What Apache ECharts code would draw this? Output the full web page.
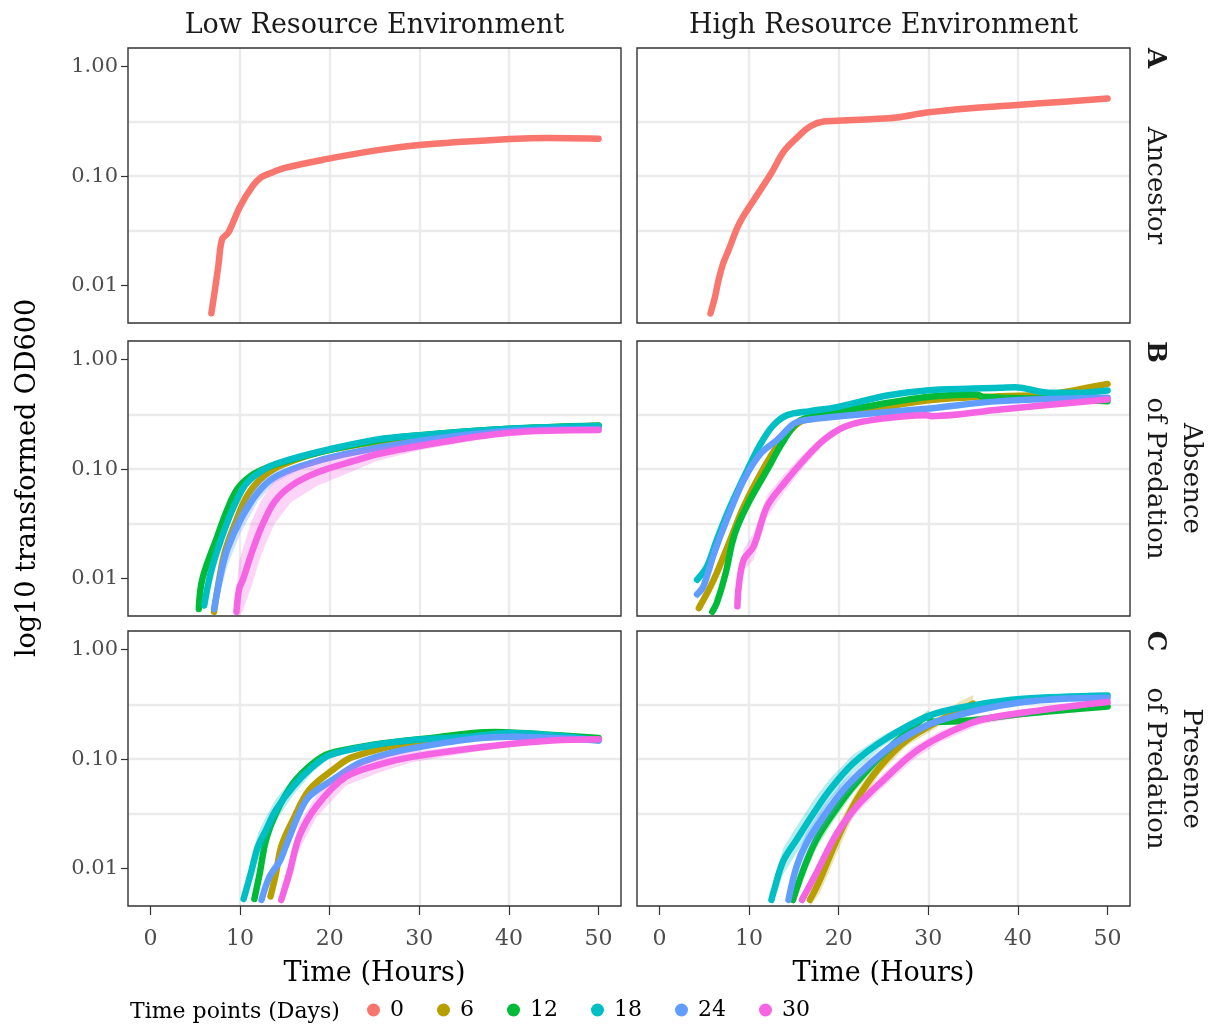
<!DOCTYPE html>
<html>
<head>
<meta charset="utf-8">
<script src="https://cdn.jsdelivr.net/npm/echarts@6/dist/echarts.min.js"></script>
<style>
  html, body { margin: 0; padding: 0; background: #fff; }
  #chart { width: 1216px; height: 1025px; }
</style>
</head>
<body>
<div id="chart"></div>
<script>
// Evolution time points (days) and their colours
const timePoints = ['0', '6', '12', '18', '24', '30'];
const pointColors = ['#F8766D', '#B79F00', '#00BA38', '#00BFC4', '#619CFF', '#F564E3'];
const resourceLabels = ['Low Resource Environment', 'High Resource Environment'];
const xTickValues = [0, 10, 20, 30, 40, 50];
const yTickValues = [0.01, 0.1, 1];

// Growth curves: [hours, OD600, spread of replicates in log10 units]
const lowAncestor = [[6.8,0.0056],[7.2,0.0092],[7.6,0.0157],[8.0,0.0266],[8.7,0.0306],[10.0,0.053],[11.4,0.081],[12.3,0.097],[13.2,0.105],[15.0,0.119],[19.6,0.143],[25.0,0.171],[30.0,0.193],[36.9,0.211],[44.1,0.223],[50,0.220]];
const highAncestor = [[5.7,0.0056],[6.2,0.0079],[6.6,0.0113],[7.1,0.0159],[7.7,0.021],[8.7,0.034],[9.4,0.0436],[10.5,0.060],[12.4,0.104],[13.9,0.169],[15.3,0.223],[16.8,0.284],[18.3,0.316],[19.8,0.320],[23.5,0.331],[26.5,0.343],[29.8,0.381],[34.7,0.417],[39.9,0.447],[45.1,0.479],[50,0.513]];

const lowAbsence6 = [[7.1,0.0050,0.04],[8.2,0.0163,0.05],[9.35,0.0305,0.05],[10.8,0.0572,0.04],[12.7,0.087,0.03],[14.9,0.111,0.02],[20,0.150,0.01],[30,0.200,0.01],[40,0.232,0.01],[50,0.248,0.01]];
const lowAbsence12 = [[5.4,0.0053,0.05],[5.8,0.0100,0.07],[7.5,0.0248,0.08],[8.6,0.0433,0.07],[9.7,0.066,0.05],[11.2,0.087,0.03],[13.1,0.104,0.02],[15.3,0.119,0.015],[20,0.150,0.01],[25.3,0.183,0.01],[30,0.204,0.01],[40,0.234,0.01],[50,0.251,0.01]];
const lowAbsence18 = [[6.0,0.0057,0.04],[6.75,0.0115,0.05],[7.9,0.0231,0.06],[9.35,0.0464,0.05],[10.8,0.0757,0.04],[13.1,0.104,0.02],[15.3,0.121,0.015],[20,0.152,0.01],[25.3,0.187,0.01],[30,0.204,0.01],[40,0.234,0.01],[50,0.248,0.01]];
const lowAbsence24 = [[7.1,0.0053,0.12],[7.9,0.0115,0.15],[8.6,0.0187,0.15],[10.1,0.0351,0.12],[12.0,0.0614,0.08],[13.8,0.084,0.05],[16.8,0.107,0.03],[21.6,0.137,0.02],[30,0.181,0.01],[40,0.223,0.01],[50,0.231,0.01]];
const lowAbsence30 = [[9.6,0.0050,0.2],[9.9,0.0081,0.25],[10.3,0.0097,0.28],[11.2,0.0163,0.3],[12.3,0.0285,0.25],[13.8,0.0498,0.2],[15.7,0.0705,0.15],[18.6,0.0933,0.12],[22.7,0.119,0.09],[25.3,0.137,0.06],[30,0.163,0.04],[40,0.215,0.015],[50,0.228,0.01]];

const highAbsence6 = [[4.4,0.0054,0.03],[5.5,0.0079,0.05],[6.4,0.0113,0.06],[7.9,0.0226,0.06],[9.4,0.0455,0.05],[11.3,0.0914,0.05],[13.1,0.160,0.06],[15.0,0.243,0.04],[16.1,0.279,0.02],[19.8,0.310,0.01],[29.8,0.424,0.01],[38.0,0.464,0.01],[43.5,0.480,0.01],[46.5,0.530,0.01],[50,0.600,0.01]];
const highAbsence12 = [[5.9,0.0050,0.03],[6.4,0.0060,0.03],[7.4,0.0113,0.04],[8.1,0.021,0.04],[8.7,0.030,0.04],[10.1,0.0523,0.04],[12.0,0.098,0.03],[13.9,0.184,0.02],[15.7,0.279,0.01],[19.8,0.332,0.01],[29.8,0.455,0.01],[35.4,0.480,0.01],[36.2,0.455,0.01],[43.5,0.440,0.01],[50,0.418,0.01]];
const highAbsence18 = [[4.2,0.0098,0.04],[5.3,0.0129,0.05],[6.4,0.0226,0.05],[7.9,0.0455,0.04],[9.8,0.098,0.03],[11.3,0.171,0.02],[12.7,0.251,0.01],[14.2,0.310,0.01],[16.8,0.339,0.01],[19.8,0.369,0.01],[25.4,0.471,0.01],[29.8,0.523,0.01],[38.0,0.553,0.01],[39.7,0.560,0.01],[43.5,0.498,0.01],[46.5,0.498,0.01],[50,0.523,0.01]];
const highAbsence24 = [[4.2,0.0072,0.05],[4.9,0.0085,0.05],[6.1,0.0171,0.05],[7.5,0.0344,0.04],[9.4,0.0794,0.03],[11.3,0.139,0.02],[13.1,0.184,0.02],[15.0,0.260,0.01],[16.1,0.279,0.01],[19.8,0.303,0.01],[29.8,0.356,0.01],[38.0,0.418,0.01],[50,0.449,0.01]];
const highAbsence30 = [[8.7,0.0056,0.05],[8.85,0.0085,0.08],[9.4,0.0149,0.1],[10.5,0.0197,0.12],[12.0,0.0455,0.1],[13.9,0.0742,0.08],[16.1,0.121,0.06],[18.3,0.184,0.04],[20.6,0.243,0.02],[23.5,0.279,0.01],[29.8,0.310,0.01],[30.4,0.305,0.01],[38.0,0.351,0.01],[50,0.433,0.01]];

const lowPresence6 = [[13.4,0.0056,0.04],[14.0,0.0090,0.05],[14.6,0.016,0.05],[15.9,0.0279,0.05],[17.7,0.0523,0.04],[20.3,0.0794,0.03],[22.6,0.105,0.02],[30,0.145,0.01],[40,0.160,0.01],[50,0.152,0.01]];
const lowPresence12 = [[11.6,0.0053,0.03],[12.2,0.0091,0.04],[12.9,0.0184,0.04],[14.0,0.0321,0.04],[15.9,0.0601,0.03],[18.1,0.0914,0.02],[20,0.113,0.015],[25,0.136,0.01],[30,0.152,0.01],[38.5,0.177,0.01],[44,0.168,0.01],[50,0.156,0.01]];
const lowPresence18 = [[10.4,0.0053,0.06],[11.2,0.0091,0.1],[12.0,0.016,0.12],[12.9,0.0226,0.12],[14.0,0.0344,0.1],[15.9,0.056,0.08],[18.1,0.0851,0.05],[20,0.109,0.03],[24.8,0.134,0.015],[30,0.151,0.01],[35.6,0.160,0.01],[40,0.173,0.01],[44.8,0.165,0.01],[50,0.149,0.01]];
const lowPresence24 = [[12.4,0.0052,0.04],[13.3,0.0085,0.05],[14.4,0.0116,0.05],[15.1,0.016,0.05],[16.6,0.032,0.05],[17.7,0.0457,0.04],[20.3,0.0645,0.03],[23.7,0.095,0.02],[30,0.129,0.01],[40,0.160,0.01],[50,0.148,0.01]];
const lowPresence30 = [[14.6,0.0052,0.1],[15.5,0.0091,0.12],[16.6,0.0197,0.12],[18.5,0.0369,0.1],[21.8,0.069,0.08],[25.9,0.091,0.07],[29.2,0.105,0.05],[37.4,0.130,0.03],[44.8,0.148,0.01],[50,0.152,0.01]];

const highPresence6 = [[16.8,0.0052,0.08],[17.9,0.0079,0.12],[19.8,0.0184,0.12],[22.0,0.0424,0.08],[24.6,0.0851,0.06],[27.6,0.149,0.05],[31.3,0.226,0.05],[33.5,0.280,0.08],[35.0,0.321,0.08]];
const highPresence12 = [[14.9,0.0052,0.06],[16.2,0.0105,0.08],[17.5,0.0184,0.08],[19.4,0.0321,0.07],[21.6,0.056,0.06],[24.6,0.105,0.05],[28.3,0.197,0.05],[30.0,0.245,0.06],[30.4,0.220,0.03],[34.6,0.226,0.03],[40.6,0.260,0.03],[50,0.303,0.03]];
const highPresence18 = [[12.5,0.0052,0.06],[12.7,0.0060,0.08],[13.8,0.0117,0.12],[15.3,0.0184,0.12],[17.2,0.0321,0.12],[19.0,0.0523,0.1],[21.6,0.0914,0.08],[25.0,0.149,0.05],[30.2,0.251,0.02],[35.0,0.310,0.01],[40.6,0.356,0.01],[50,0.382,0.01]];
const highPresence24 = [[14.4,0.0052,0.08],[15.3,0.0105,0.1],[16.4,0.0171,0.1],[18.3,0.0299,0.1],[20.5,0.0523,0.08],[23.1,0.0851,0.06],[26.8,0.149,0.04],[31.3,0.226,0.02],[40.6,0.332,0.01],[50,0.364,0.01]];
const highPresence30 = [[15.9,0.0052,0.05],[17.5,0.0091,0.06],[19.8,0.0211,0.06],[22.0,0.0369,0.06],[25.0,0.0644,0.06],[28.3,0.113,0.06],[31.3,0.160,0.05],[35.7,0.226,0.04],[42.4,0.279,0.03],[50,0.332,0.02]];

// Facet grid: rows are treatments, columns are resource environments
const panels = [
  { row: 0, col: 0, curves: [['0', lowAncestor]] },
  { row: 0, col: 1, curves: [['0', highAncestor]] },
  { row: 1, col: 0, curves: [['6', lowAbsence6], ['12', lowAbsence12], ['18', lowAbsence18], ['24', lowAbsence24], ['30', lowAbsence30]] },
  { row: 1, col: 1, curves: [['6', highAbsence6], ['12', highAbsence12], ['18', highAbsence18], ['24', highAbsence24], ['30', highAbsence30]] },
  { row: 2, col: 0, curves: [['6', lowPresence6], ['12', lowPresence12], ['18', lowPresence18], ['24', lowPresence24], ['30', lowPresence30]] },
  { row: 2, col: 1, curves: [['6', highPresence6], ['12', highPresence12], ['18', highPresence18], ['24', highPresence24], ['30', highPresence30]] }
];

// Layout
const FONT = 'DejaVu Serif';
const colLeft = [128, 637];
const rowTop = [48, 341, 631];
const panelW = 493, panelH = 275;
const xRange = [-2.5, 52.5];
const yRange = [-2.34, 0.17];   // log10 OD600
const gridColor = '#EBEBEB';

const lg = v => Math.log10(v);
const colorOf = name => pointColors[timePoints.indexOf(name)];

const grids = [], xAxes = [], yAxes = [], series = [];

panels.forEach((p, i) => {
  const bottomRow = p.row === 2;
  const leftCol = p.col === 0;
  grids.push({ left: colLeft[p.col], top: rowTop[p.row], width: panelW, height: panelH, show: false });

  xAxes.push({
    gridIndex: i, type: 'value', min: xRange[0], max: xRange[1], splitNumber: 5, position: 'bottom',
    axisLine: { show: false, onZero: false },
    axisTick: { show: bottomRow, customValues: xTickValues, length: 9, lineStyle: { color: '#333', width: 1.2 } },
    axisLabel: { show: bottomRow, customValues: xTickValues, margin: 22, fontSize: 22, color: '#4D4D4D', fontFamily: FONT },
    splitLine: { show: true, showMinLine: false, showMaxLine: false, lineStyle: { color: gridColor, width: 2.4 } },
    name: bottomRow ? 'Time (Hours)' : '', nameLocation: 'middle', nameGap: 54,
    nameTextStyle: { fontSize: 27, color: '#000', fontFamily: FONT }
  });

  yAxes.push({
    gridIndex: i, type: 'value', min: yRange[0], max: yRange[1], splitNumber: 2, position: 'left',
    axisLine: { show: false, onZero: false },
    axisTick: { show: leftCol, customValues: yTickValues.map(lg), length: 7, lineStyle: { color: '#333', width: 1.2 } },
    axisLabel: {
      show: leftCol, customValues: yTickValues.map(lg), margin: 10, fontSize: 21, color: '#4D4D4D', fontFamily: FONT,
      formatter: v => Math.pow(10, v).toFixed(2)
    },
    splitLine: { show: true, showMinLine: false, showMaxLine: false, lineStyle: { color: gridColor, width: 2.4 } },
    minorTick: { show: false, splitNumber: 2 },
    minorSplitLine: { show: true, lineStyle: { color: gridColor, width: 2.4 } }
  });

  p.curves.forEach(([name, pts], k) => {
    const color = colorOf(name);
    // replicate spread, drawn as a translucent band behind the mean curve
    if (pts.some(d => d[2])) {
      series.push({
        type: 'custom', xAxisIndex: i, yAxisIndex: i, silent: true, z: 2 + k * 2,
        data: [[pts[0][0], lg(pts[0][1])]],
        renderItem: (params, api) => {
          const clampY = v => Math.min(yRange[1], Math.max(yRange[0], v));
          const upper = pts.map(d => api.coord([d[0], clampY(lg(d[1]) + (d[2] || 0))]));
          const lower = pts.map(d => api.coord([d[0], clampY(lg(d[1]) - (d[2] || 0))])).reverse();
          return {
            type: 'polygon',
            shape: { points: upper.concat(lower) },
            style: { fill: color, opacity: 0.28 }
          };
        }
      });
    }
    series.push({
      type: 'line', name, xAxisIndex: i, yAxisIndex: i,
      data: pts.map(d => [d[0], lg(d[1])]),
      showSymbol: false, symbol: 'circle', smooth: 0.35,
      lineStyle: { width: 6.5, color, cap: 'round', join: 'round' },
      itemStyle: { color },
      emphasis: { disabled: true }, silent: true,
      z: 3 + k * 2
    });
  });
});

// Panel frames, facet strips and shared titles
const graphics = [];
panels.forEach(p => {
  graphics.push({
    type: 'rect', z: 100, silent: true,
    shape: { x: colLeft[p.col], y: rowTop[p.row], width: panelW, height: panelH },
    style: { fill: null, stroke: '#333', lineWidth: 1.4 }
  });
});
resourceLabels.forEach((t, c) => {
  graphics.push({
    type: 'text', z: 100, x: colLeft[c] + panelW / 2, y: 26,
    style: { text: t, fill: '#1A1A1A', font: `27px "${FONT}"`, align: 'center', verticalAlign: 'middle' }
  });
});
const stripText = (text, x, y, bold) => ({
  type: 'text', z: 100, x, y, rotation: -Math.PI / 2,
  style: { text, fill: '#1A1A1A', font: `${bold ? 'bold ' : ''}26px "${FONT}"`, align: 'center', verticalAlign: 'middle' }
});
graphics.push(stripText('A', 1155, 58, true));
graphics.push(stripText('Ancestor', 1155, rowTop[0] + panelH / 2));
graphics.push(stripText('B', 1155, 352, true));
graphics.push(stripText('Absence', 1191, rowTop[1] + panelH / 2));
graphics.push(stripText('of Predation', 1155, rowTop[1] + panelH / 2));
graphics.push(stripText('C', 1155, 641, true));
graphics.push(stripText('Presence', 1191, rowTop[2] + panelH / 2));
graphics.push(stripText('of Predation', 1155, rowTop[2] + panelH / 2));
graphics.push({
  type: 'text', z: 100, x: 28, y: 478, rotation: Math.PI / 2,
  style: { text: 'log10 transformed OD600', fill: '#000', font: `27px "${FONT}"`, align: 'center', verticalAlign: 'middle' }
});
graphics.push({
  type: 'text', z: 100, x: 130, y: 1012,
  style: { text: 'Time points (Days)', fill: '#000', font: `22px "${FONT}"`, align: 'left', verticalAlign: 'middle' }
});

const chart = echarts.init(document.getElementById('chart'), null, { renderer: 'canvas' });
chart.setOption({
  animation: false,
  backgroundColor: '#fff',
  grid: grids,
  xAxis: xAxes,
  yAxis: yAxes,
  legend: {
    data: timePoints, left: 367, top: 999, padding: 0,
    icon: 'circle', itemWidth: 13, itemHeight: 13, itemGap: 33,
    selectedMode: false,
    textStyle: { fontSize: 22, color: '#000', fontFamily: FONT, padding: [0, 0, 0, 5] }
  },
  series,
  graphic: graphics
});
</script>
</body>
</html>
